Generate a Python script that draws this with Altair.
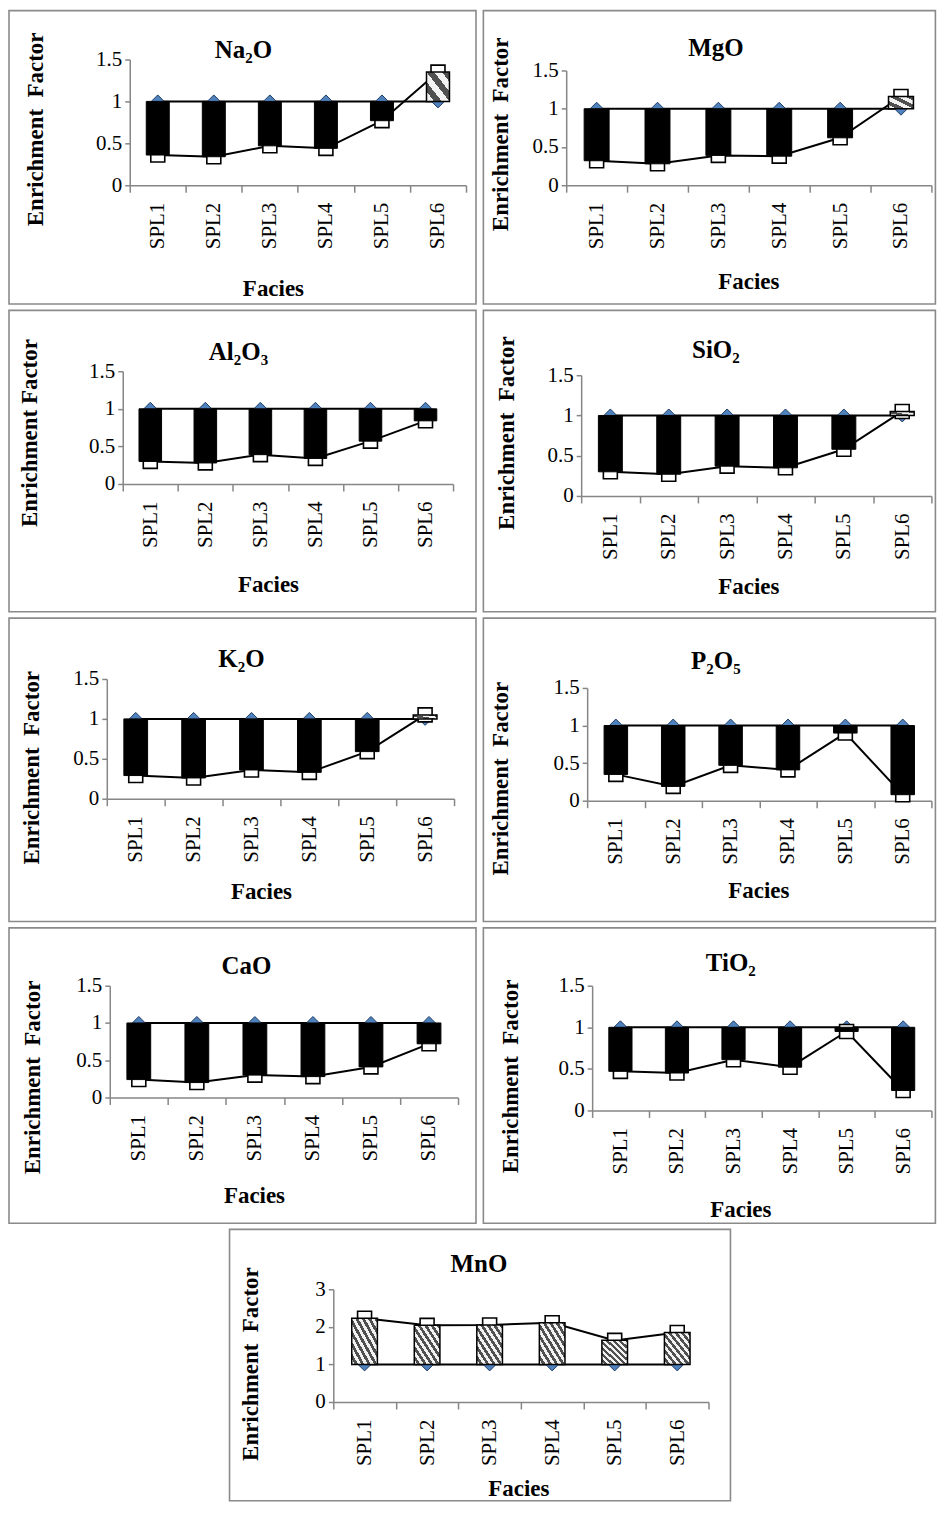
import altair as alt
import pandas as pd

samples = ["SPL1", "SPL2", "SPL3", "SPL4", "SPL5", "SPL6"]
reference = [1, 1, 1, 1, 1, 1]

na2o = [0.36, 0.34, 0.47, 0.44, 0.77, 1.35]
mgo = [0.32, 0.28, 0.39, 0.38, 0.62, 1.16]
al2o3 = [0.30, 0.28, 0.39, 0.34, 0.57, 0.84]
sio2 = [0.30, 0.27, 0.37, 0.35, 0.58, 1.05]
k2o = [0.29, 0.26, 0.36, 0.33, 0.59, 1.05]
p2o5 = [0.35, 0.19, 0.47, 0.41, 0.90, 0.08]
cao = [0.24, 0.20, 0.30, 0.28, 0.41, 0.72]
tio2 = [0.47, 0.45, 0.61, 0.52, 0.95, 0.24]
mno = [2.23, 2.04, 2.05, 2.11, 1.64, 1.85]

FONT = "Liberation Serif"
YT_WIDE = "Enrichment\u00a0 Factor"
YT_NARROW = "Enrichment Factor"
XT = "Facies"

# layout (page pixels)
COLS = {0: (8, 476), 1: (483, 936)}
ROWS = {1: (8, 302), 2: (308, 610), 3: (616, 920), 4: (926, 1222), 5: (1228, 1500)}
ORIG_X = {0: 106, 1: 566}
ORIG_Y = {1: 57, 2: 369, 3: 677, 4: 984, 5: 1228}


def hatch(n):
    light, dark = "#f2f2f2", "#505050"
    stops = []
    for i in range(n):
        a = i / n
        b = (i + 0.5) / n
        c = (i + 1) / n
        stops += [alt.GradientStop(offset=a, color=light),
                  alt.GradientStop(offset=b, color=light),
                  alt.GradientStop(offset=b, color=dark),
                  alt.GradientStop(offset=c, color=dark)]
    return alt.LinearGradient(gradient="linear", stops=stops, x1=0, y1=1, x2=1, y2=0)


def panel(title, vals, ymax, yticks, col, row, plot, ttl_pos, yt_pos, xt_pos, ytext,
          n_stripes, frame_x=None):
    ox = ORIG_X[col]
    oy = ORIG_Y[row]
    px0, px1, py0, py1 = plot
    dx, dy = px0 - ox, py0 - oy
    W, H = px1 - px0, py1 - py0
    fx0, fx1 = frame_x if frame_x else COLS[col]
    fy0, fy1 = ROWS[row]

    df = pd.DataFrame({"Sample": samples, "EF": vals, "Ref": reference})
    one = pd.DataFrame({"k": [0]})

    xaxis = alt.Axis(labelAngle=-90, labelFontSize=21, tickSize=7, labelPadding=10,
                     tickBand="extent", labelOverlap=False, title=None)
    yaxis = alt.Axis(values=yticks, format="~g", labelFontSize=21, tickSize=5,
                     labelPadding=3, labelOverlap=False, title=None, offset=-dx)
    xs = alt.Scale(paddingInner=0, paddingOuter=0, range=[dx, dx + W])
    ys = alt.Scale(domain=[0, ymax], nice=False, range=[dy + H, dy])

    def X():
        return alt.X("Sample:N", sort=samples, scale=xs, axis=xaxis)

    def Y(f):
        return alt.Y(f + ":Q", scale=ys, axis=yaxis)

    def label(text, pos, size, angle=0):
        return alt.Chart(one).mark_text(text=text, font=FONT, fontSize=size, fontWeight="bold",
                                        align="center", baseline="middle", color="black",
                                        angle=angle).encode(
            x=alt.value(pos[0] - ox), y=alt.value(pos[1] - oy))

    base = alt.Chart(df)
    frame = alt.Chart(one).mark_rect(fillOpacity=0, stroke="#8a8a8a", strokeWidth=1.6).encode(
        x=alt.value(fx0 - ox), x2=alt.value(fx1 - ox), y=alt.value(fy0 - oy), y2=alt.value(fy1 - oy))
    ttl = label(title, ttl_pos, 25)
    ytl = label(ytext, yt_pos, 23, angle=270)
    xtl = label(XT, xt_pos, 23)
    line_ref = base.mark_line(color="black", strokeWidth=2).encode(x=X(), y=Y("Ref"))
    line_ef = base.mark_line(color="black", strokeWidth=2).encode(x=X(), y=Y("EF"))
    diamonds = base.mark_point(shape="diamond", filled=True, fill="#4f81bd", stroke="#1f3b63",
                               strokeWidth=1, size=169, opacity=1).encode(x=X(), y=Y("Ref"))
    squares = base.mark_point(shape="square", filled=True, fill="white", stroke="black",
                              strokeWidth=1.6, size=196, opacity=1).encode(x=X(), y=Y("EF"))
    down = base.transform_filter("datum.EF < 1").mark_bar(
        width={"band": 0.41}, color="black", stroke="black", strokeWidth=1).encode(
        x=X(), y=Y("EF"), y2="Ref:Q")
    up = base.transform_filter("datum.EF > 1").mark_bar(
        width={"band": 0.41}, fill=hatch(n_stripes), stroke="black", strokeWidth=1.5).encode(
        x=X(), y=Y("EF"), y2="Ref:Q")
    layers = [frame, ttl, ytl, xtl, line_ref, line_ef, diamonds, squares, down, up]
    return alt.layer(*layers).properties(width=dx + W, height=dy + H)


t15 = [0, 0.5, 1, 1.5]
p_na = panel("Na\u2082O", na2o, 1.5, t15, 0, 1, (129, 466, 57, 183), (243, 47), (35, 127),
             (273, 287), YT_WIDE, 3)
p_mg = panel("MgO", mgo, 1.5, t15, 1, 1, (566, 932, 68, 183), (716, 45), (501, 132),
             (749, 280), YT_WIDE, 3)
p_al = panel("Al\u2082O\u2083", al2o3, 1.5, t15, 0, 2, (122, 453, 369, 482), (238, 350), (29, 431),
             (268, 583), YT_NARROW, 3)
p_si = panel("SiO\u2082", sio2, 1.5, t15, 1, 2, (581, 932, 373, 494), (716, 348), (507, 431),
             (749, 585), YT_WIDE, 2)
p_k = panel("K\u2082O", k2o, 1.5, t15, 0, 3, (106, 454, 677, 797), (241, 657), (31, 766),
            (261, 891), YT_WIDE, 2)
p_p = panel("P\u2082O\u2085", p2o5, 1.5, t15, 1, 3, (587, 932, 686, 799), (716, 659), (501, 777),
            (759, 890), YT_WIDE, 3)
p_ca = panel("CaO", cao, 1.5, t15, 0, 4, (109, 458, 984, 1096), (246, 964), (32, 1076),
             (254, 1195), YT_WIDE, 3)
p_ti = panel("TiO\u2082", tio2, 1.5, t15, 1, 4, (592, 932, 984, 1109), (731, 961), (511, 1075),
             (741, 1209), YT_WIDE, 3)
p_mn = panel("MnO", mno, 3, [0, 1, 2, 3], 0, 5, (333, 709, 1288, 1401), (479, 1263), (251, 1363),
             (519, 1488), YT_WIDE, 8, frame_x=(229, 731))

grid = alt.concat(
    p_na, p_mg, p_al, p_si, p_k, p_p, p_ca, p_ti,
    columns=2,
    align="none",
    spacing={"row": 4.4, "column": 5.4},
)

chart = alt.vconcat(grid, p_mn, spacing=4.4).properties(
    padding=0, background="white").configure_view(stroke=None).configure_axis(
    labelFont=FONT, titleFont=FONT, labelColor="black", titleColor="black",
    domainColor="#868686", tickColor="#868686", domainWidth=1.5, tickWidth=1.5, grid=False
)

chart.save("out.html", embed_options={"renderer": "svg", "actions": False})
